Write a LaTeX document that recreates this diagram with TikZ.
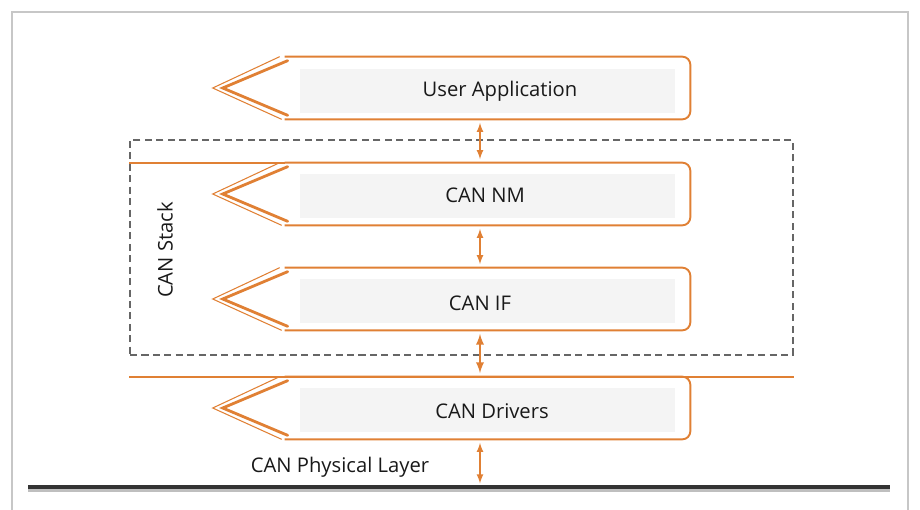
\documentclass[tikz,border=0pt]{standalone}
\usepackage{fontspec}
\setmainfont{Open Sans}
\usetikzlibrary{calc}
\definecolor{canorange}{RGB}{224,128,52}
\definecolor{boxgray}{RGB}{244,244,244}

\begin{document}
\begin{tikzpicture}[x=0.02cm, y=-0.02cm,
  layer/.style={rectangle, minimum width=8.1cm, minimum height=1.24cm, inner sep=0pt},
  inbox/.style={rectangle, fill=boxgray, minimum width=7.5cm, minimum height=0.9cm, inner sep=0pt},
  label/.style={font=\fontsize{11.5}{13}\selectfont, text=black!90},
  frame/.style={draw=canorange, line width=1.1pt, rounded corners=0.16cm},
  link/.style={draw=canorange, line width=0.8pt, <->, >=latex, shorten <=2pt, shorten >=2pt}]
			\useasboundingbox (0,0) rectangle (920,510);
			\draw[black!22, line width=1.5pt] (12,520) -- (12,12) -- (908,12) -- (908,520);
			
			\node(stack) [draw=black!60, dash pattern=on 4pt off 2.5pt, line width=0.8pt, rectangle, minimum width=13.26cm, minimum height=4.3cm, inner sep=0pt] at (461.5,247.5){};
			\node(stacklbl) [label, rotate=90] at (165,250){CAN Stack};
			
			\node(ua) [layer] at (487.5,88){};
			\node(nm) [layer] at (487.5,194){};
			\node(cif) [layer] at (487.5,299){};
			\node(drv) [layer] at (487.5,408){};
			
			\node(uabox) [inbox] at (487.5,91){};
			\node(nmbox) [inbox] at (487.5,196){};
			\node(cifbox) [inbox] at (487.5,301){};
			\node(drvbox) [inbox] at (487.5,410){};
			
			\node(uatxt) [label] at (500,91){User Application};
			\node(nmtxt) [label] at (485,195){CAN NM};
			\node(ciftxt) [label] at (480,303){CAN IF};
			\node(drvtxt) [label] at (492,411){CAN Drivers};
			
			\foreach \l in {ua,nm,cif,drv}{
				\draw[frame] (\l.north west) -- (\l.north east) -- (\l.south east) -- (\l.south west);
				\draw[canorange, line width=0.6pt] ([xshift=-0.1cm]\l.north west) -- ([xshift=-1.44cm]\l.west) -- ([xshift=-0.06cm]\l.south west);
				\draw[canorange, line width=1.6pt, line cap=round] ([xshift=0.06cm, yshift=-0.08cm]\l.north west) -- ([xshift=-1.24cm]\l.west) -- ([xshift=0.06cm, yshift=0.08cm]\l.south west);
			}
			
			\draw[frame] (stack.west |- nm.north) -- (nm.north west);
			\draw[frame] (stack.west |- drv.north) -- (stack.east |- drv.north);
			
			\coordinate(axis) at (480,0);
			\coordinate(busl) at (28,487);
			\coordinate(busr) at (890,487);
			\draw[black!25, line width=3.5pt] ([yshift=-0.04cm]busl) -- ([yshift=-0.04cm]busr);
			\draw[black!80, line width=2.2pt] (busl) -- (busr);
			\node(phys) [label] at (340,467){CAN Physical Layer};
			
			\draw[link] (ua.south -| axis) -- (nm.north -| axis);
			\draw[link] (nm.south -| axis) -- (cif.north -| axis);
			\draw[link, line width=1.1pt] (cif.south -| axis) -- (drv.north -| axis);
			\draw[link] (drv.south -| axis) -- (busl -| axis);
		\end{tikzpicture}
\end{document}
